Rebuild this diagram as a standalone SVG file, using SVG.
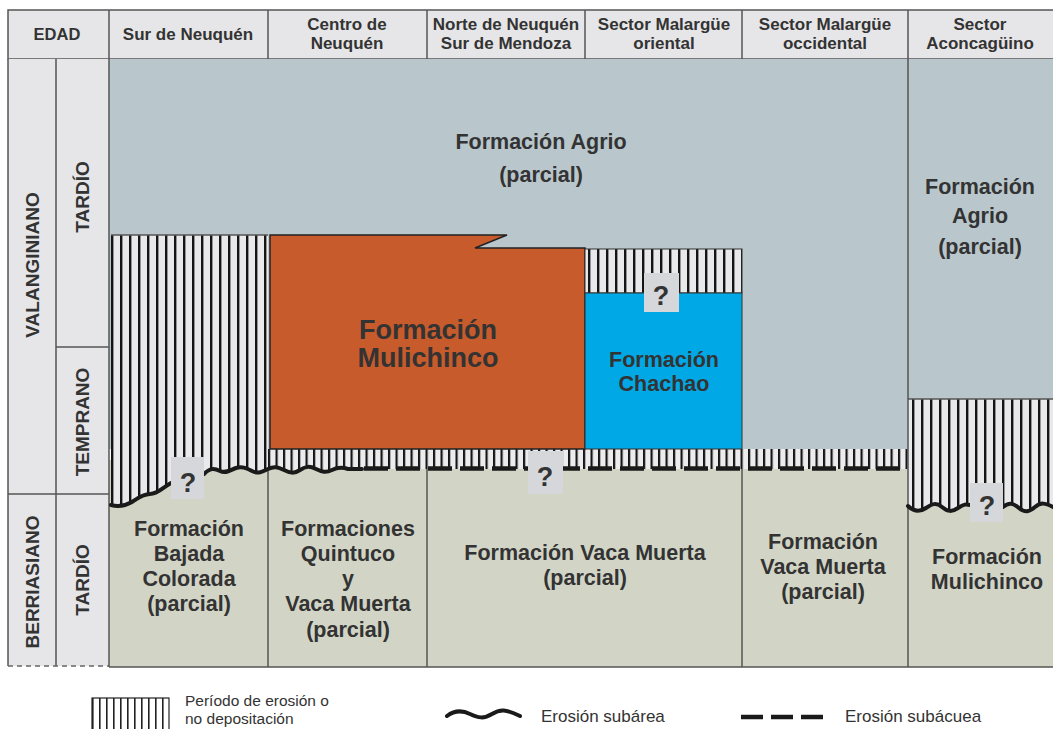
<svg xmlns="http://www.w3.org/2000/svg" width="1053" height="729" viewBox="0 0 1053 729">
<defs>
<pattern id="hatch" x="111" y="0" width="9" height="10" patternUnits="userSpaceOnUse">
<rect width="9" height="10" fill="#e9e9eb"/><rect x="0" width="2.4" height="10" fill="#151515"/>
</pattern>
<pattern id="hatchS" x="268" y="0" width="7.5" height="10" patternUnits="userSpaceOnUse">
<rect width="7.5" height="10" fill="#ececee"/><rect x="0" width="2.2" height="10" fill="#151515"/>
</pattern>
<pattern id="hatchL" x="92" y="0" width="7" height="10" patternUnits="userSpaceOnUse">
<rect width="7" height="10" fill="#ffffff"/><rect x="0" width="1.6" height="10" fill="#222"/>
</pattern>
</defs>
<style>
.t{font-family:"Liberation Sans",Arial,sans-serif;font-weight:bold;fill:#333;text-anchor:middle}
.h{font-size:17px}
.b{font-size:21.5px}
.big{font-size:27px}
.lab{font-size:19px}
.q{font-size:27px}
.leg{font-family:"Liberation Sans",Arial,sans-serif;font-size:17px;fill:#333}
.ln{stroke:#555;stroke-width:1.5;fill:none}
.dk{stroke:#222;stroke-width:1.5;fill:none}
.wave{stroke:#1a1a1a;stroke-width:4;fill:none;stroke-linecap:round}
.qb{fill:#d6d7db}
</style>
<rect width="1053" height="729" fill="#ffffff"/>

<g id="header">
<rect x="8" y="10" width="1060" height="49" fill="#e6e6e8" stroke="#555" stroke-width="1.5"/>
<path class="ln" d="M109,10V59M268,10V59M427,10V59M585,10V59M742,10V59M908,10V59"/>
<text class="t" x="57" y="40" style="font-size:16.5px">EDAD</text>
<text class="t h" x="188" y="40">Sur de Neuquén</text>
<text class="t h" x="347" y="30">Centro de</text>
<text class="t h" x="347" y="49">Neuquén</text>
<text class="t h" x="506" y="30">Norte de Neuquén</text>
<text class="t h" x="506" y="49">Sur de Mendoza</text>
<text class="t h" x="664" y="30">Sector Malargüe</text>
<text class="t h" x="664" y="49">oriental</text>
<text class="t h" x="825" y="30">Sector Malargüe</text>
<text class="t h" x="825" y="49">occidental</text>
<text class="t h" x="980" y="30">Sector</text>
<text class="t h" x="980" y="49">Aconcagüino</text>
</g>

<g id="edad">
<rect x="8" y="59" width="101" height="607" fill="#e6e6e8"/>
<path class="ln" d="M8,59V666M56,59V666M56,347H109M8,494H109"/>
<path d="M8,666H109" stroke="#666" stroke-width="1.5" stroke-dasharray="5,4"/>
<text class="t lab" transform="translate(32,265) rotate(-90)" dy="7">VALANGINIANO</text>
<text class="t lab" transform="translate(82,197) rotate(-90)" dy="7">TARDÍO</text>
<text class="t lab" transform="translate(82,422) rotate(-90)" dy="7">TEMPRANO</text>
<text class="t lab" transform="translate(32,582) rotate(-90)" dy="7">BERRIASIANO</text>
<text class="t lab" transform="translate(82,580) rotate(-90)" dy="7">TARDÍO</text>
</g>

<g id="base-berriasiano">
<rect x="109" y="460" width="950" height="207" fill="#d2d5c6"/>
</g>

<g id="agrio">
<rect x="109" y="59" width="799" height="390" fill="#b9c7cc"/>
<text class="t b" x="541" y="149">Formación Agrio</text>
<text class="t b" x="541" y="182">(parcial)</text>
</g>

<g id="agrio-aconcaguino">
<rect x="908" y="59" width="150" height="340" fill="#b9c7cc"/>
<text class="t b" x="980" y="194">Formación</text>
<text class="t b" x="980" y="223">Agrio</text>
<text class="t b" x="980" y="254">(parcial)</text>
</g>

<g id="hiato-sur">
<rect x="111" y="235" width="157" height="280" fill="url(#hatch)"/>
<rect x="268" y="449" width="640" height="22" fill="url(#hatchS)"/>
<path d="M111,505 C118,507 125,506 132,502 C138,498 143,494 150,494 C158,494 162,488 171,483 L204,474 C210,468 214,468 220,471 S230,470 236,468 S246,468 252,471 S262,472 268,469 S278,467 284,470 S294,474 300,470 S310,466 316,469 S326,473 332,470 S342,467 348,469 L362,469 L908,469 L908,530 L111,530 Z" fill="#d2d5c6"/>
<path d="M111,235H268" class="ln"/>
</g>

<g id="hiato-aconcaguino">
<rect x="908" y="399" width="150" height="116" fill="url(#hatch)"/>
<path d="M908,506 C914,512 920,512 926,508 S936,502 942,507 S952,512 958,508 S966,504 970,505 L1003,507 C1009,502 1013,503 1019,508 S1029,512 1035,507 S1045,503 1053,507 L1058,507 L1058,530 L908,530 Z" fill="#d2d5c6"/>
<path d="M908,399H1058" class="ln"/>
</g>

<g id="mulichinco">
<path d="M270,235 H507 L475,248 H585 V449 H270 Z" fill="#c85b2c" stroke="#222" stroke-width="1.5"/>
<text class="t big" x="428" y="339">Formación</text>
<text class="t big" x="428" y="367">Mulichinco</text>
</g>

<g id="chachao">
<rect x="585" y="249" width="157" height="44" fill="url(#hatch)" stroke="#333" stroke-width="1"/>
<rect x="585" y="293" width="157" height="156" fill="#00a9e6" stroke="#333" stroke-width="1"/>
<text class="t b" x="664" y="367">Formación</text>
<text class="t b" x="664" y="391">Chachao</text>
</g>

<g id="bajada-colorada">
<text class="t b" x="189" y="536">Formación</text>
<text class="t b" x="189" y="561">Bajada</text>
<text class="t b" x="189" y="586">Colorada</text>
<text class="t b" x="189" y="611">(parcial)</text>
</g>

<g id="quintuco">
<text class="t b" x="348" y="536">Formaciones</text>
<text class="t b" x="348" y="561">Quintuco</text>
<text class="t b" x="348" y="586">y</text>
<text class="t b" x="348" y="611">Vaca Muerta</text>
<text class="t b" x="348" y="637">(parcial)</text>
</g>

<g id="vaca-muerta">
<text class="t b" x="585" y="560">Formación Vaca Muerta</text>
<text class="t b" x="585" y="585">(parcial)</text>
</g>

<g id="vaca-muerta-occidental">
<text class="t b" x="823" y="549">Formación</text>
<text class="t b" x="823" y="574">Vaca Muerta</text>
<text class="t b" x="823" y="599">(parcial)</text>
</g>

<g id="mulichinco-aconcaguino">
<text class="t b" x="987" y="564">Formación</text>
<text class="t b" x="987" y="589">Mulichinco</text>
</g>

<g id="lines">
<path class="ln" d="M109,59V667M908,59V667M268,470V667M427,469V667M742,469V667M109,667H1058"/>
<path class="wave" d="M111,505 C118,507 125,506 132,502 C138,498 143,494 150,494 C158,494 162,488 171,483"/>
<path class="wave" d="M204,474 C210,468 214,468 220,471 S230,470 236,468 S246,468 252,471 S262,472 268,469 S278,467 284,470 S294,474 300,470 S310,466 316,469 S326,473 332,470 S342,467 348,469 L362,469"/>
<path d="M364,468.5H908" stroke="#1a1a1a" stroke-width="4.5" stroke-dasharray="24,8"/>
<path class="wave" d="M908,506 C914,512 920,512 926,508 S936,502 942,507 S952,512 958,508 S966,504 970,505"/>
<path class="wave" d="M1003,507 C1009,502 1013,503 1019,508 S1029,512 1035,507 S1045,503 1053,507"/>
</g>

<g id="interrogantes">
<rect class="qb" x="171" y="457" width="33" height="42"/>
<text class="t q" x="188" y="492">?</text>
<rect class="qb" x="528" y="451" width="35" height="43"/>
<text class="t q" x="545" y="486">?</text>
<rect class="qb" x="644" y="273" width="35" height="39"/>
<text class="t q" x="661" y="305">?</text>
<rect class="qb" x="970" y="483" width="33" height="39"/>
<text class="t q" x="987" y="515">?</text>
</g>

<g id="leyenda">
<rect x="92" y="698" width="77" height="40" fill="url(#hatchL)" stroke="#222" stroke-width="1.2"/>
<text class="leg" x="185" y="706" style="font-size:15.5px">Período de erosión o</text>
<text class="leg" x="185" y="724" style="font-size:15.5px">no depositación</text>
<path class="wave" d="M447,716 C455,710 462,710 470,714 S484,719 492,714 S506,709 520,716"/>
<text class="leg" x="541" y="722">Erosión subárea</text>
<path d="M741,717H825" stroke="#1a1a1a" stroke-width="4.5" stroke-dasharray="22,8"/>
<text class="leg" x="845" y="722">Erosión subácuea</text>
</g>
</svg>
